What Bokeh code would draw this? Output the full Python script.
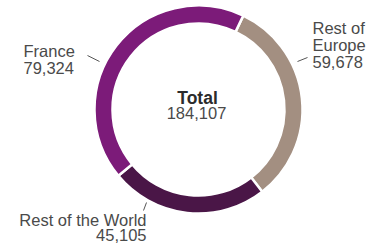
import numpy as np
from bokeh.plotting import figure
from bokeh.models import Range1d, ColumnDataSource
from bokeh.core.properties import value
from bokeh.embed import file_html
from bokeh.resources import INLINE

# ---- data ----
categories = ["Rest of Europe", "Rest of the World", "France"]   # clockwise from top-right
values = [59678, 45105, 79324]
colors = ["#a38f81", "#4a1647", "#7c1b79"]
total = sum(values)

# ---- layout (page pixel coordinates; y measured from top of window) ----
W, H = 368, 244
def py(y):  # page y -> data y
    return H - y

cx, cy = 198, py(109)
r_out, r_in = 104, 86
start_deg = 25.5  # clockwise from 12 o'clock
dy = 5  # text baseline correction

p = figure(width=W, height=H, output_backend="svg", toolbar_location=None,
           x_range=Range1d(0, W), y_range=Range1d(0, H), min_border=0)
p.axis.visible = False
p.grid.visible = False
p.outline_line_color = None
p.background_fill_color = "white"

fr = np.array(values) / total * 360.0
cum = np.concatenate([[0], np.cumsum(fr)])
starts = np.deg2rad(90 - (start_deg + cum[:-1]))
ends = np.deg2rad(90 - (start_deg + cum[1:]))
src = ColumnDataSource(dict(cat=categories, val=values, start=starts, end=ends, color=colors))
p.annular_wedge(x=cx, y=cy, inner_radius=r_in, outer_radius=r_out,
                start_angle="start", end_angle="end", direction="clock",
                fill_color="color", line_color="white", line_width=2.5, source=src)

txt = dict(text_font=value("Liberation Sans"), text_color="#4a4a4a",
           text_baseline="alphabetic")
fs = "16.5px"
fmt = lambda v: f"{v:,}"

# center
p.text(x=[197], y=[py(102 - dy)], text=["Total"], text_align="center", text_font_size="17.5px",
       text_font_style="bold", **{**txt, "text_color": "#2b2b2b"})
p.text(x=[196], y=[py(117 - dy)], text=[fmt(total)], text_align="center", text_font_size=fs, **txt)

# France label
p.text(x=[23], y=[py(55 - dy)], text=[categories[2]], text_align="left", text_font_size=fs, **txt)
p.text(x=[23], y=[py(72 - dy)], text=[fmt(values[2])], text_align="left", text_font_size=fs, **txt)
p.segment(x0=[87], y0=[py(55)], x1=[99], y1=[py(61)], line_color="#555555", line_width=1)

# Rest of Europe label
p.text(x=[312], y=[py(32 - dy)], text=["Rest of"], text_align="left", text_font_size=fs, **txt)
p.text(x=[312], y=[py(49 - dy)], text=["Europe"], text_align="left", text_font_size=fs, **txt)
p.text(x=[312], y=[py(66 - dy)], text=[fmt(values[0])], text_align="left", text_font_size=fs, **txt)
p.segment(x0=[297], y0=[py(61)], x1=[307], y1=[py(57)], line_color="#555555", line_width=1)

# Rest of the World label
p.text(x=[146], y=[py(224.5 - dy)], text=[categories[1]], text_align="right", text_font_size=fs, **txt)
p.text(x=[146], y=[py(239.5 - dy)], text=[fmt(values[1])], text_align="right", text_font_size=fs, **txt)
p.segment(x0=[143], y0=[py(210)], x1=[146], y1=[py(202)], line_color="#555555", line_width=1)

open("out.html", "w").write(file_html(p, INLINE))
